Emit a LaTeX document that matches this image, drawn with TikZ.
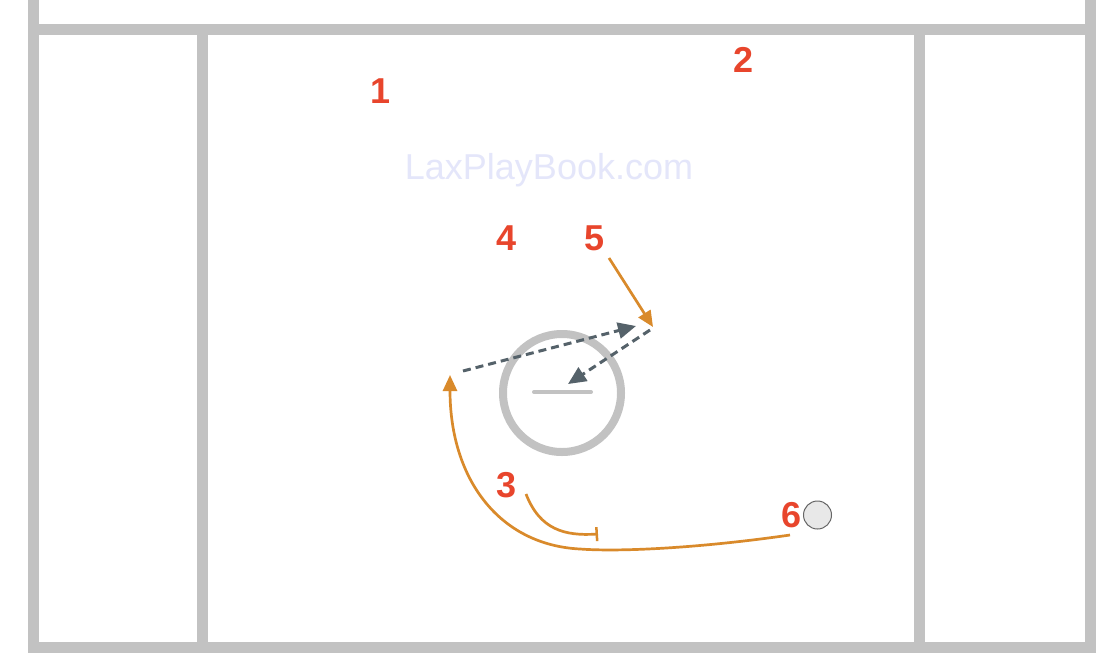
\documentclass[tikz,border=0pt]{standalone}
\usepackage{fontspec}
\setmainfont{Liberation Sans}
\usetikzlibrary{arrows.meta}
\definecolor{fieldgray}{HTML}{C2C2C2}
\definecolor{numred}{HTML}{E8452C}
\definecolor{runorange}{HTML}{D98A2B}
\definecolor{passgray}{HTML}{55626A}
\definecolor{wmark}{HTML}{E4E6FA}
\definecolor{ballfill}{HTML}{E8E8E8}
\begin{document}
\begin{tikzpicture}[x=1pt,y=-1pt,
  fieldline/.style={draw=fieldgray,line width=11pt,line join=miter},
  player/.style={text=numred,font=\fontsize{36}{36}\selectfont\bfseries,inner sep=0pt},
  run/.style={draw=runorange,line width=2.7pt,-{Triangle[length=16pt,width=14pt]}},
  pass/.style={draw=passgray,line width=3pt,dash pattern=on 8pt off 5pt,-{Triangle[length=18pt,width=16pt]}}]
\useasboundingbox (0,0) rectangle (1110,662);
\fill[white] (0,0) rectangle (1110,662);
% field
\draw[fieldline] (33,-10) -- (33,647) -- (1090,647) -- (1090,-10);
\draw[fieldline] (33,29) -- (1090,29);
\draw[fieldline] (202,29) -- (202,647);
\draw[fieldline] (919,29) -- (919,647);
% watermark
\node[text=wmark,font=\fontsize{36}{36}\selectfont,inner sep=0pt,anchor=base] (wm) at (549,179) {LaxPlayBook.com};
% faceoff circle
\node[circle,draw=fieldgray,line width=8pt,minimum size=118pt,inner sep=0pt] (faceoff) at (562,393) {};
\coordinate (barL) at (534,392);
\coordinate (barR) at (591,392);
\draw[fieldgray,line width=4pt,line cap=round] (barL) -- (barR);
% players
\node[player] (p1) at (381,91) {1};
\node[player] (p2) at (743,60) {2};
\node[player] (p3) at (507,485) {3};
\node[player] (p4) at (507,238) {4};
\node[player] (p5) at (595,238) {5};
\node[player] (p6) at (791,515) {6};
\node[circle,draw=black!60,fill=ballfill,line width=1pt,minimum size=28pt,inner sep=0pt] (ball) at (817.5,515) {};
% passes
\coordinate (a1) at (463,371);
\coordinate (a2) at (636,326);
\coordinate (b1) at (650,330);
\coordinate (b2) at (568,384);
\draw[pass] (a1) -- (a2);
\draw[pass] (b1) -- (b2);
% runs
\coordinate (r5s) at (609,258);
\coordinate (r5e) at (653,327);
\draw[run] (r5s) -- (r5e);
\coordinate (r6s) at (790,535);
\coordinate (r6m) at (580,549);
\coordinate (r6e) at (450,375);
\draw[run] (r6s) .. controls (700,548) and (620,552) .. (r6m) .. controls (500,545) and (450,480) .. (r6e);
\coordinate (r3s) at (526,494);
\coordinate (r3e) at (598,534);
\draw[draw=runorange,line width=2.7pt,-{Bar[width=14pt,line width=2.5pt]}] (r3s) .. controls (540,530) and (565,536) .. (r3e);
\end{tikzpicture}
\end{document}
